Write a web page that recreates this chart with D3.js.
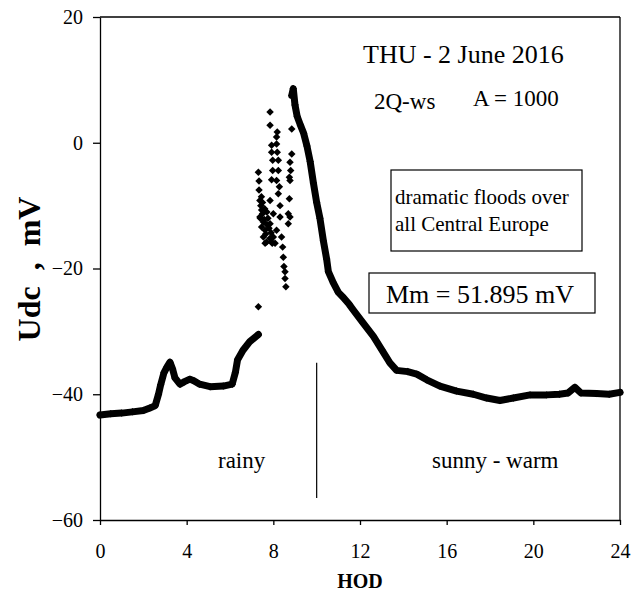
<!DOCTYPE html>
<html>
<head>
<meta charset="utf-8">
<script src="https://cdn.jsdelivr.net/npm/d3@7"></script>
<style>
  body { margin: 0; background: #fff; }
  svg text { font-family: "Liberation Serif", "Times New Roman", serif; fill: #000; }
</style>
</head>
<body>
<svg id="chart" width="631" height="597"></svg>
<script>
// morning trace (baseline before the storm)
const hoursA = [0, 0.5, 1.0, 1.5, 2.0, 2.3, 2.55, 2.7, 2.8, 2.95, 3.1, 3.23, 3.35, 3.46, 3.69, 3.9, 4.15, 4.35, 4.6, 5.08, 5.69, 6.1, 6.25, 6.35, 6.6, 6.92, 7.31];
const valuesA = [-43.3, -43.1, -43.0, -42.8, -42.6, -42.2, -41.8, -40.0, -38.5, -36.6, -35.6, -34.9, -36.0, -37.4, -38.4, -38.0, -37.6, -37.9, -38.4, -38.8, -38.7, -38.4, -36.5, -34.5, -33.0, -31.6, -30.5];

// trace after the peak
const hoursB = [8.85, 8.92, 9.0, 9.1, 9.25, 9.4, 9.55, 9.7, 9.85, 10.0, 10.15, 10.31, 10.46, 10.54, 10.77, 11.0, 11.23, 11.5, 11.69, 12.15, 12.62, 13.0, 13.38, 13.69, 14.2, 14.62, 15.08, 15.69, 16.46, 17.23, 17.85, 18.46, 19.08, 19.85, 20.62, 21.2, 21.6, 21.92, 22.2, 22.92, 23.5, 24.0];
const valuesB = [7.5, 8.6, 6.0, 4.2, 2.8, 1.5, -0.5, -3.0, -6.4, -9.5, -12.0, -15.6, -18.5, -20.5, -22.3, -23.8, -24.6, -25.7, -26.6, -28.7, -30.8, -32.9, -35.0, -36.2, -36.4, -36.8, -37.7, -38.7, -39.5, -40.0, -40.6, -41.0, -40.6, -40.1, -40.1, -40.0, -39.8, -38.9, -39.8, -39.9, -40.0, -39.7];

// scattered readings during the rain
const scatterHours = [7.31, 7.34, 7.34, 7.38, 7.42, 7.46, 7.38, 7.54, 7.46, 7.62, 7.54, 7.69, 7.62,
  7.40, 7.5, 7.58, 7.65, 7.7, 7.75, 7.8, 7.85, 7.9, 7.95, 7.5, 7.45, 7.6, 7.7,
  7.85, 7.85, 8.18, 8.15, 8.15, 7.92, 8.18, 7.92, 7.97, 8.23, 8.23, 7.97, 8.15, 7.92, 8.28, 8.23, 7.85, 8.31, 8.0, 8.31, 7.85, 8.15, 8.0, 7.92, 8.08,
  8.38, 8.43, 8.46, 8.49, 8.54, 8.54, 8.58,
  8.85, 8.85, 8.77, 8.8, 8.74, 8.77, 8.74, 8.69, 8.69, 8.77,
  7.31];
const scatterValues = [-4.7, -6.1, -7.5, -9.2, -10.0, -10.7, -11.8, -12.6, -13.4, -13.9, -15.0, -15.8, -16.0,
  -12.0, -11.3, -12.2, -14.5, -13.0, -12.0, -13.6, -15.2, -14.3, -16.0, -9.5, -8.6, -10.5, -11.0,
  4.9, 2.8, 1.7, 0.9, -0.2, -0.4, -1.5, -1.5, -2.8, -2.8, -4.4, -4.4, -6.0, -5.9, -7.0, -8.1, -9.2, -10.0, -11.3, -11.8, -12.9, -13.9, -15.0, -15.8, -16.0,
  -15.0, -16.6, -18.2, -19.7, -20.5, -21.6, -22.9,
  2.2, -1.8, -3.1, -4.4, -5.5, -6.0, -8.9, -11.3, -12.9, -11.8,
  -26.1];

const xTicks = [0, 4, 8, 12, 16, 20, 24];
const yTicks = [-60, -40, -20, 0, 20];
const dividerHour = 10;
const dividerRange = [-35, -56.5];

const svg = d3.select("#chart");
const plotLeft = 100, plotRight = 620, plotTop = 17, plotBottom = 520;

const x = d3.scaleLinear().domain([0, 24]).range([plotLeft, plotRight]);
const y = d3.scaleLinear().domain([-60, 20]).range([plotBottom, plotTop]);

// axes
const xAxis = svg.append("g")
    .attr("transform", "translate(0," + plotBottom + ")")
    .call(d3.axisBottom(x).tickValues(xTicks).tickSize(5).tickSizeOuter(0).tickPadding(19));
const yAxis = svg.append("g")
    .attr("transform", "translate(" + plotLeft + ",0)")
    .call(d3.axisLeft(y).tickValues(yTicks).tickSize(7).tickSizeOuter(0).tickPadding(10));

[xAxis, yAxis].forEach(function(g) {
    g.selectAll("path, line").attr("stroke", "#000").attr("stroke-width", 1.3);
    g.selectAll("text")
        .style("font-family", "'Liberation Serif', serif")
        .style("font-size", "20px")
        .attr("fill", "#000");
});

// top and right frame
svg.append("line").attr("x1", plotLeft).attr("x2", plotRight).attr("y1", plotTop).attr("y2", plotTop)
    .attr("stroke", "#000").attr("stroke-width", 1.3);
svg.append("line").attr("x1", plotRight).attr("x2", plotRight).attr("y1", plotTop).attr("y2", plotBottom)
    .attr("stroke", "#000").attr("stroke-width", 1.3);

// axis titles
svg.append("text")
    .attr("x", 360).attr("y", 588)
    .attr("text-anchor", "middle")
    .style("font-weight", "bold").style("font-size", "20px")
    .text("HOD");
svg.append("text")
    .attr("transform", "translate(40,269) rotate(-90)")
    .attr("text-anchor", "middle")
    .style("font-weight", "bold").style("font-size", "32px")
    .style("white-space", "pre")
    .text("Udc  ,  mV");

// data traces
const line = d3.line()
    .x(function(d) { return x(d[0]); })
    .y(function(d) { return y(d[1]); });

const traceA = d3.zip(hoursA, valuesA);
const traceB = d3.zip(hoursB, valuesB);
const scatter = d3.zip(scatterHours, scatterValues);

[traceA, traceB].forEach(function(tr) {
    svg.append("path")
        .datum(tr)
        .attr("d", line)
        .attr("fill", "none")
        .attr("stroke", "#000")
        .attr("stroke-width", 7)
        .attr("stroke-linejoin", "round")
        .attr("stroke-linecap", "round");
});

const diamond = d3.symbol().type(d3.symbolSquare).size(28);
svg.append("g")
    .selectAll("path")
    .data(traceA.concat(traceB, scatter))
    .join("path")
    .attr("d", diamond)
    .attr("transform", function(d) { return "translate(" + x(d[0]) + "," + y(d[1]) + ") rotate(45)"; })
    .attr("fill", "#000");

// rainy / sunny divider
svg.append("line")
    .attr("x1", x(dividerHour)).attr("x2", x(dividerHour))
    .attr("y1", y(dividerRange[0])).attr("y2", y(dividerRange[1]))
    .attr("stroke", "#000").attr("stroke-width", 1.2);

svg.append("text").attr("x", 218).attr("y", 468)
    .style("font-size", "23px").text("rainy");
svg.append("text").attr("x", 432).attr("y", 468)
    .style("font-size", "23px").text("sunny - warm");

// annotations
svg.append("text").attr("x", 363).attr("y", 63)
    .style("font-size", "26px").text("THU - 2 June 2016");
svg.append("text").attr("x", 374).attr("y", 109)
    .style("font-size", "23px").text("2Q-ws");
svg.append("text").attr("x", 473).attr("y", 106)
    .style("font-size", "23px").text("A = 1000");

svg.append("rect")
    .attr("x", 391).attr("y", 170).attr("width", 191).attr("height", 81)
    .attr("fill", "#fff").attr("stroke", "#000").attr("stroke-width", 1.2);
svg.append("text").attr("x", 395).attr("y", 204)
    .style("font-size", "21px").text("dramatic floods over");
svg.append("text").attr("x", 395).attr("y", 231)
    .style("font-size", "21px").text("all Central Europe");

svg.append("rect")
    .attr("x", 369).attr("y", 273).attr("width", 226).attr("height", 40)
    .attr("fill", "#fff").attr("stroke", "#000").attr("stroke-width", 1.2);
svg.append("text").attr("x", 386).attr("y", 303)
    .style("font-size", "26px").text("Mm = 51.895 mV");
</script>
</body>
</html>
